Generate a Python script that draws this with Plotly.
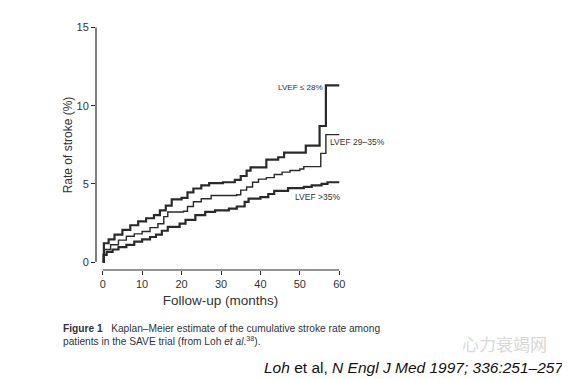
import plotly.graph_objects as go

# ---- data ----
months_low = [0, 0.3, 1.5, 3, 5, 7, 9, 11, 13, 14.5, 16, 17.5, 20, 21.5, 23, 25, 27, 30.5,
              33.5, 35, 36.5, 37.5, 41.5, 44.5, 46, 51.5, 55, 56.6, 60]
rate_low = [0, 1.2, 1.45, 1.75, 2.05, 2.35, 2.6, 2.8, 3.0, 3.3, 3.6, 4.0, 4.1, 4.45, 4.7, 4.9,
            5.05, 5.1, 5.25, 5.5, 5.85, 6.05, 6.55, 6.7, 7.0, 7.45, 8.7, 11.3, 11.3]

months_mid = [0, 0.3, 2, 4, 6, 8, 10, 12, 14, 15.5, 16.5, 20.5, 21.5, 23, 25, 27.5, 34, 35,
              36.5, 38, 39.5, 41.5, 43.5, 45.5, 47.5, 50, 51, 55.3, 56.6, 60]
rate_mid = [0, 0.8, 1.1, 1.4, 1.65, 1.8, 1.95, 2.2, 2.45, 2.9, 3.2, 3.25, 3.55, 3.85, 4.05,
            4.25, 4.3, 4.6, 4.8, 5.1, 5.3, 5.4, 5.6, 5.75, 5.85, 5.95, 6.1, 6.95, 8.15, 8.15]

months_high = [0, 0.2, 1, 2.5, 4, 6, 8, 10, 12, 13.5, 15, 16.5, 19.5, 21, 23.5, 26, 28.5, 32,
               34, 36, 37, 40, 42, 43.5, 47, 51, 53, 55.5, 57, 60]
rate_high = [0, 0.45, 0.65, 0.8, 0.95, 1.1, 1.3, 1.45, 1.6, 1.75, 2.0, 2.25, 2.45, 2.7, 3.0,
             3.2, 3.3, 3.42, 3.55, 3.85, 4.05, 4.15, 4.35, 4.55, 4.72, 4.8, 4.9, 5.0, 5.1, 5.1]

x_ticks = [0, 10, 20, 30, 40, 50, 60]
y_ticks = [0, 5, 10, 15]

# the page body has an 8px margin; work in window pixels and offset
OFF = 8
W, H = 570 - OFF, 379 - OFF
LINE = "#2a2a2a"
TXT = "#333333"

fig = go.Figure()
for xs, ys, w in [(months_low, rate_low, 2.2), (months_mid, rate_mid, 1.4), (months_high, rate_high, 2.2)]:
    fig.add_trace(go.Scatter(x=xs, y=ys, mode="lines", line=dict(shape="hv", color=LINE, width=w),
                             showlegend=False, hoverinfo="skip"))

def fx(px):  # window px -> figure px
    return px - OFF

# plot area in window pixels
L, R, T, B = 96, 345, 20, 270
px_per_month = (339.3 - 102.7) / 60
x0_px = 102.7
xr = [(L - x0_px) / px_per_month, (R - x0_px) / px_per_month]
y0_px, y15_px = 262, 27.5
px_per_unit = (y0_px - y15_px) / 15
yr = [(y0_px - B) / px_per_unit, (y0_px - T) / px_per_unit]

fig.update_layout(
    width=W, height=H, autosize=False,
    margin=dict(l=0, r=0, t=0, b=0),
    paper_bgcolor="white", plot_bgcolor="white",
    font=dict(family="Liberation Sans, Arial, sans-serif", color=TXT),
    xaxis=dict(domain=[fx(L) / W, fx(R) / W], range=xr, showgrid=False, zeroline=False, showline=False,
               tickvals=x_ticks, ticks="outside", ticklen=4, tickcolor=LINE, tickwidth=1,
               tickfont=dict(size=11, color=TXT),
               title=dict(text="Follow-up (months)", font=dict(size=13.5, color=TXT), standoff=6)),
    yaxis=dict(domain=[(H - fx(B)) / H, (H - fx(T)) / H], range=yr, showgrid=False, zeroline=False,
               showline=False, tickvals=y_ticks, ticks="outside", ticklen=4, tickcolor=LINE,
               tickwidth=1, tickfont=dict(size=11, color=TXT),
               title=dict(text="Rate of stroke (%)", font=dict(size=12, color=TXT), standoff=1)),
)

# detached axis lines (base-R style)
fig.add_shape(type="line", xref="x domain", yref="y", x0=0, x1=0, y0=0, y1=15,
              line=dict(color=LINE, width=1.2))
fig.add_shape(type="line", xref="x", yref="y domain", x0=0, x1=60, y0=0, y1=0,
              line=dict(color=LINE, width=1.2))

def pap(px, py):
    return fx(px) / W, (H - fx(py)) / H

labels = [("LVEF \u2264 28%", 276, 87, 8.1), ("LVEF 29\u201335%", 328, 141.5, 8.5),
          ("LVEF >35%", 293, 197, 8.5)]
for t, px, py, fs in labels:
    xx, yy = pap(px, py)
    fig.add_annotation(text=t, x=xx, y=yy, xref="paper", yref="paper", xanchor="left",
                       yanchor="middle", showarrow=False, font=dict(size=fs, color=TXT))

CAP = "#2f3440"
xx, yy = pap(61, 328)
fig.add_annotation(text="<b>Figure 1</b>   Kaplan\u2013Meier estimate of the cumulative stroke rate among",
                   x=xx, y=yy, xref="paper", yref="paper", xanchor="left", yanchor="middle",
                   showarrow=False, font=dict(size=10.2, color=CAP))
xx, yy = pap(61, 341)
fig.add_annotation(text="patients in the SAVE trial (from Loh <i>et al</i>.<sup>38</sup>).",
                   x=xx, y=yy, xref="paper", yref="paper", xanchor="left", yanchor="middle",
                   showarrow=False, font=dict(size=10.2, color=CAP))

xx, yy = pap(460, 343)
fig.add_annotation(text="\u5fc3\u529b\u8870\u7aed\u7f51", x=xx, y=yy, xref="paper", yref="paper",
                   xanchor="left", yanchor="middle", showarrow=False,
                   font=dict(size=17, color="#d8d8d8", family="Noto Sans CJK SC"))

xx, yy = pap(262, 367)
fig.add_annotation(text="<i>Loh</i> et al, <i>N Engl J Med 1997; 336:251\u2013257</i>",
                   x=xx, y=yy, xref="paper", yref="paper", xanchor="left", yanchor="middle",
                   showarrow=False, font=dict(size=15.5, color="#111111",
                                              family="Liberation Sans, Arial, sans-serif"))

fig.write_html("out.html")
